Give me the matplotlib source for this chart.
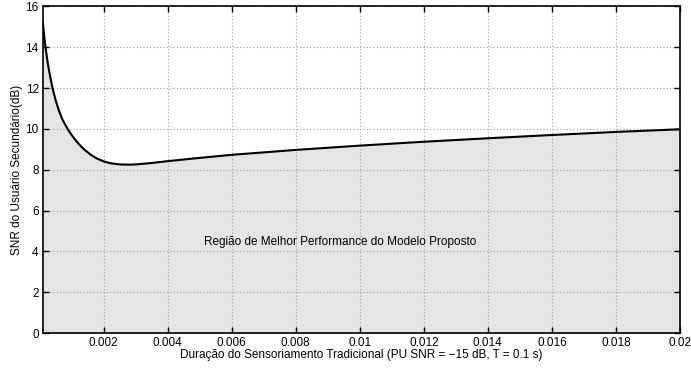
import matplotlib
matplotlib.use("Agg")
import matplotlib.pyplot as plt

plt.rcParams['font.family'] = ['Liberation Sans', 'DejaVu Sans']

# duração do sensoriamento (s) e SNR mínimo do usuário secundário (dB)
duracao = [0.0001, 0.00015, 0.0002, 0.00025, 0.0003, 0.0004, 0.0005, 0.0006,
           0.0007, 0.0008, 0.0009, 0.001, 0.0011, 0.0012, 0.0013, 0.0014,
           0.0016, 0.0018, 0.002, 0.0022, 0.0025, 0.0028, 0.003, 0.0035,
           0.004, 0.005, 0.006, 0.008, 0.01, 0.012, 0.014, 0.016, 0.018, 0.02]
snr_su = [15.2, 14.4, 13.8, 13.25, 12.8, 12.0, 11.4, 10.9,
          10.5, 10.2, 9.93, 9.7, 9.49, 9.3, 9.13, 8.98,
          8.73, 8.54, 8.41, 8.32, 8.26, 8.25, 8.26, 8.33,
          8.42, 8.58, 8.73, 8.97, 9.18, 9.37, 9.54, 9.7, 9.85, 9.98]

xticks = [0.002, 0.004, 0.006, 0.008, 0.01, 0.012, 0.014, 0.016, 0.018, 0.02]
xtick_labels = ['0.002', '0.004', '0.006', '0.008', '0.01', '0.012',
                '0.014', '0.016', '0.018', '0.02']
yticks = [0, 2, 4, 6, 8, 10, 12, 14, 16]

fig = plt.figure(figsize=(6.91, 3.69), dpi=100)
ax = fig.add_axes([0.062, 0.097, 0.922, 0.886])

ax.fill_between(duracao, 0, snr_su, color='#e5e5e5', zorder=1)
ax.plot(duracao, snr_su, color='black', lw=1.5, zorder=3)

ax.set_xlim(0.0001, 0.02)
ax.set_ylim(0, 16)
ax.set_xticks(xticks)
ax.set_xticklabels(xtick_labels)
ax.set_yticks(yticks)

ax.grid(True, linestyle=(0, (1, 2)), color='#a0a0a0', lw=0.8)
ax.set_axisbelow(False)
ax.tick_params(direction='in', top=True, right=True, labelsize=8.5,
               length=4, width=1, pad=3)
for s in ax.spines.values():
    s.set_linewidth(1.2)
    s.set_zorder(4)

ax.text(0.0094, 4.45, 'Região de Melhor Performance do Modelo Proposto',
        ha='center', va='center', fontsize=8.5)

ax.set_xlabel('Duração do Sensoriamento Tradicional (PU SNR = \u221215 dB, T = 0.1 s)',
              fontsize=8.5, labelpad=0)
ax.set_ylabel('SNR do Usuário Secundário(dB)', fontsize=8.5, labelpad=2)

fig.savefig('out.png', dpi=100)
